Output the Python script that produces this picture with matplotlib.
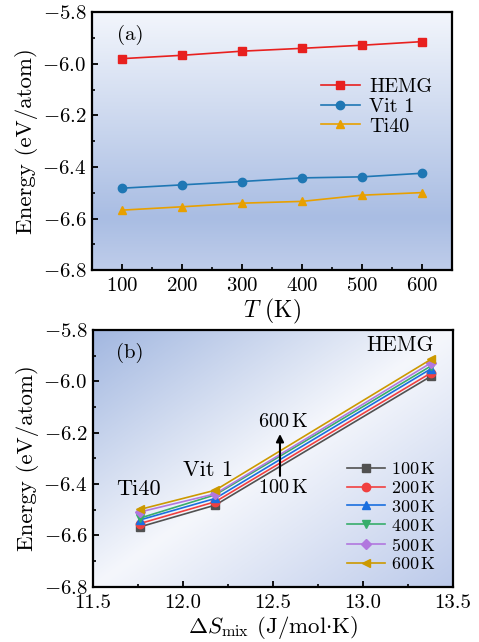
import numpy as np
import matplotlib
matplotlib.use("Agg")
import matplotlib.pyplot as plt
from matplotlib.colors import LinearSegmentedColormap

plt.rcParams['font.family'] = 'serif'
plt.rcParams['font.serif'] = ['cmr10', 'DejaVu Serif']
plt.rcParams['mathtext.fontset'] = 'cm'
plt.rcParams['axes.formatter.use_mathtext'] = True
plt.rcParams['axes.unicode_minus'] = True

# ---- data ----
temperatures = [100, 200, 300, 400, 500, 600]
alloys = ["HEMG", "Vit 1", "Ti40"]
hemg = [-5.980, -5.967, -5.951, -5.940, -5.928, -5.914]
vit1 = [-6.482, -6.469, -6.456, -6.442, -6.438, -6.424]
ti40 = [-6.567, -6.554, -6.540, -6.533, -6.509, -6.499]
dS_mix = [11.76, 12.18, 13.38]          # Ti40, Vit 1, HEMG
temp_labels = [r"100$\,$K", r"200$\,$K", r"300$\,$K", r"400$\,$K",
               r"500$\,$K", r"600$\,$K"]
y_ticks = [-6.8, -6.6, -6.4, -6.2, -6.0, -5.8]
y_ticklabels = ["$-6.8$", "$-6.6$", "$-6.4$", "$-6.2$", "$-6.0$", "$-5.8$"]
x_ticks_b = [11.5, 12.0, 12.5, 13.0, 13.5]
x_ticklabels_b = ["11.5", "12.0", "12.5", "13.0", "13.5"]

colors_a = ["#E8201F", "#1F77B4", "#E8A000"]
markers_a = ["s", "o", "^"]
colors_b = ["#515151", "#F14040", "#1A6FDF", "#37AD6B", "#B177DE", "#CC9900"]
markers_b = ["s", "o", "^", "v", "D", "<"]

fig = plt.figure(figsize=(4.79, 6.42), dpi=100)
ax1 = fig.add_axes([0.192, 0.579, 0.752, 0.402])
ax2 = fig.add_axes([0.194, 0.086, 0.751, 0.400])

# ---- backgrounds ----
cmap_a = LinearSegmentedColormap.from_list(
    "ga", [(0.0, "#bfcdea"), (0.2, "#a9bde3"), (1.0, "#f3f6fc")])
grad = np.linspace(0, 1, 256).reshape(-1, 1)
ax1.imshow(grad, cmap=cmap_a, origin="lower", aspect="auto",
           extent=[0, 1, 0, 1], transform=ax1.transAxes, zorder=0)

xx, yy = np.meshgrid(np.linspace(0, 1, 300), np.linspace(0, 1, 300))
s = yy - xx
cmap_b = LinearSegmentedColormap.from_list(
    "gb", [(0.0, "#bccaea"), (0.5, "#f5f7fc"), (1.0, "#a2b7e0")])
ax2.imshow((s + 1) / 2, cmap=cmap_b, origin="lower", aspect="auto",
           extent=[0, 1, 0, 1], transform=ax2.transAxes, zorder=0,
           vmin=0, vmax=1)

# ---- panel (a) ----
series_a = [hemg, vit1, ti40]
for name, vals, c, m in zip(alloys, series_a, colors_a, markers_a):
    ax1.plot(temperatures, vals, color=c, marker=m, ms=6, lw=1.2,
             label=name, zorder=3)
ax1.set_xlim(50, 650)
ax1.set_ylim(-6.8, -5.8)
ax1.set_xticks(temperatures)
ax1.set_yticks(y_ticks)
ax1.set_yticklabels(y_ticklabels)
ax1.set_xticks([150, 250, 350, 450, 550], minor=True)
ax1.set_yticks(np.arange(-6.7, -5.8, 0.2), minor=True)
ax1.set_xlabel("$T$ (K)", fontsize=17, labelpad=1)
ax1.set_ylabel("Energy (eV/atom)", fontsize=16.5, labelpad=3)
ax1.text(0.105, 0.91, "(a)", transform=ax1.transAxes, fontsize=15,
         ha="center", va="center")
ax1.legend(loc="upper left", bbox_to_anchor=(0.635, 0.745), frameon=False,
           fontsize=14.5, handlelength=1.95, handletextpad=0.45,
           labelspacing=0.08, borderaxespad=0, borderpad=0)

# ---- panel (b) ----
# values per temperature at (Ti40, Vit 1, HEMG)
for i, lab in enumerate(temp_labels):
    vals = [ti40[i], vit1[i], hemg[i]]
    ax2.plot(dS_mix, vals, color=colors_b[i], marker=markers_b[i],
             ms=6 if markers_b[i] != "D" else 5, lw=1.2, label=lab,
             zorder=3 + i)
ax2.set_xlim(11.5, 13.5)
ax2.set_ylim(-6.8, -5.8)
ax2.set_xticks(x_ticks_b)
ax2.set_xticklabels(x_ticklabels_b)
ax2.set_xticks([11.75, 12.25, 12.75, 13.25], minor=True)
ax2.set_yticks(y_ticks)
ax2.set_yticklabels(y_ticklabels)
ax2.set_yticks(np.arange(-6.7, -5.8, 0.2), minor=True)
ax2.set_xlabel(r"$\Delta S_{\rm mix}$ (J/mol$\cdot$K)", fontsize=16.5, labelpad=2)
ax2.set_ylabel("Energy (eV/atom)", fontsize=16.5, labelpad=3)
ax2.text(0.102, 0.91, "(b)", transform=ax2.transAxes, fontsize=15,
         ha="center", va="center")
ax2.text(11.752, -6.419, "Ti40", fontsize=16, ha="center", va="center")
ax2.text(12.14, -6.345, "Vit 1", fontsize=16, ha="center", va="center")
ax2.text(13.207, -5.858, "HEMG", fontsize=15.5, ha="center", va="center")
ax2.text(12.557, -6.158, r"600$\,$K", fontsize=14.5, ha="center", va="center")
ax2.text(12.557, -6.415, r"100$\,$K", fontsize=14.5, ha="center", va="center")
ax2.annotate("", xy=(12.54, -6.205), xytext=(12.54, -6.368),
             arrowprops=dict(arrowstyle="-|>", color="black", lw=1.5,
                             mutation_scale=11, shrinkA=0, shrinkB=0),
             zorder=10)
ax2.legend(loc="upper left", bbox_to_anchor=(0.705, 0.49), frameon=False,
           fontsize=13, handlelength=2.15, handletextpad=0.3,
           labelspacing=0.16, borderaxespad=0, borderpad=0)

for ax in (ax1, ax2):
    for sp in ax.spines.values():
        sp.set_linewidth(1.6)
        sp.set_zorder(20)
    ax.tick_params(which="both", direction="in", top=False, right=False,
                   labelsize=15)
    ax.tick_params(which="major", length=4, width=1.3)
    ax.tick_params(which="minor", length=2.5, width=1.2)
    ax.tick_params(axis="x", which="major", pad=5)
    ax.tick_params(axis="y", which="major", pad=4)

fig.savefig("out.png", dpi=100)
